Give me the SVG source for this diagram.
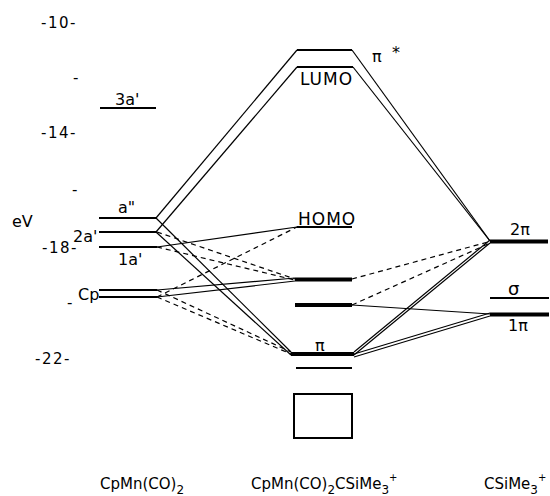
<svg xmlns="http://www.w3.org/2000/svg" width="550" height="496" viewBox="0 0 550 496">
  <style>
    text { font-family: "DejaVu Sans", "Liberation Sans", sans-serif; fill: #000; }
    .ax { font-size: 15px; letter-spacing: 1.5px; }
    .lab { font-size: 16px; }
    .big { font-size: 17px; letter-spacing: 1px; }
    .mol { font-size: 15px; }
    .lvl { stroke: #000; stroke-width: 2; fill: none; }
    .thick { stroke: #000; stroke-width: 4; fill: none; }
    .con { stroke: #000; stroke-width: 1.2; fill: none; }
    .dash { stroke: #000; stroke-width: 1.2; fill: none; stroke-dasharray: 5 4; }
  </style>

  <!-- energy axis -->
  <g id="axis">
    <text class="ax" x="41" y="28">-10-</text>
    <text class="ax" x="73" y="83">-</text>
    <text class="ax" x="41" y="138">-14-</text>
    <text class="ax" x="72" y="195">-</text>
    <text class="lab" x="12" y="227">eV</text>
    <text class="ax" x="42" y="253">-18-</text>
    <text class="ax" x="67" y="308" letter-spacing="0">-</text>
    <text class="ax" x="35" y="364">-22-</text>
  </g>

  <!-- connectors -->
  <g id="connectors">
    <!-- antibonding pair to 2pi -->
    <polyline class="con" points="156,218 297,50"/>
    <polyline class="con" points="156,232 297,67"/>
    <polyline class="con" points="352,50 490,241"/>
    <polyline class="con" points="353,67 490,241"/>
    <!-- bonding pi -->
    <line class="con" x1="156" y1="218" x2="291" y2="352"/>
    <line class="con" x1="156" y1="232" x2="291" y2="355"/>
    <line class="con" x1="354" y1="352" x2="490" y2="240"/>
    <line class="con" x1="354" y1="355" x2="490" y2="243"/>
    <line class="con" x1="354" y1="354" x2="490" y2="313"/>
    <line class="con" x1="354" y1="357" x2="490" y2="316"/>
    <!-- solid left -->
    <line class="con" x1="157" y1="247" x2="297" y2="227"/>
    <line class="con" x1="157" y1="290" x2="295" y2="278"/>
    <line class="con" x1="157" y1="297" x2="295" y2="281"/>
    <!-- solid right -->
    <line class="con" x1="352" y1="305" x2="490" y2="314"/>
    <!-- dashed left -->
    <line class="dash" x1="157" y1="232" x2="295" y2="279"/>
    <line class="dash" x1="157" y1="247" x2="295" y2="280"/>
    <line class="dash" x1="157" y1="297" x2="297" y2="227"/>
    <line class="dash" x1="157" y1="290" x2="291" y2="352"/>
    <line class="dash" x1="157" y1="297" x2="291" y2="354"/>
    <!-- dashed right -->
    <line class="dash" x1="352" y1="279" x2="488" y2="242"/>
    <line class="dash" x1="352" y1="305" x2="488" y2="244"/>
  </g>

  <!-- CpMn(CO)2 fragment levels -->
  <g id="n-3a">
    <line class="lvl" x1="100" y1="108" x2="156" y2="108"/>
    <text class="lab" x="115" y="105">3a'</text>
  </g>
  <g id="n-a2">
    <line class="lvl" x1="99" y1="218" x2="157" y2="218"/>
    <text class="lab" x="118" y="213">a"</text>
  </g>
  <g id="n-2a">
    <line class="lvl" x1="99" y1="232" x2="157" y2="232"/>
    <text class="lab" x="73" y="242">2a'</text>
  </g>
  <g id="n-1a">
    <line class="lvl" x1="99" y1="247" x2="157" y2="247"/>
    <text class="lab" x="118" y="265">1a'</text>
  </g>
  <g id="n-cp">
    <line class="lvl" x1="99" y1="290" x2="157" y2="290"/>
    <line class="lvl" x1="99" y1="297" x2="157" y2="297"/>
    <text class="lab" x="78" y="300">Cp</text>
  </g>

  <!-- complex levels -->
  <g id="n-pistar">
    <line class="lvl" x1="297" y1="50" x2="352" y2="50"/>
    <text class="lab" x="372" y="62">π</text>
    <text class="lab" x="392" y="58">*</text>
  </g>
  <g id="n-lumo">
    <line class="lvl" x1="297" y1="67" x2="353" y2="67"/>
    <text class="big" x="300" y="85">LUMO</text>
  </g>
  <g id="n-homo">
    <line class="lvl" x1="297" y1="227" x2="352" y2="227"/>
    <text class="big" x="298" y="225">HOMO</text>
  </g>
  <g id="n-c279">
    <line class="thick" x1="295" y1="279.5" x2="352" y2="279.5"/>
  </g>
  <g id="n-c305">
    <line class="thick" x1="295" y1="305" x2="352" y2="305"/>
  </g>
  <g id="n-pi">
    <line class="thick" x1="291" y1="354" x2="354" y2="354"/>
    <text class="lab" x="315" y="351">π</text>
  </g>
  <g id="n-c368">
    <line class="lvl" x1="296" y1="368" x2="352" y2="368"/>
  </g>
  <g id="n-box">
    <rect x="294" y="394" width="58" height="44" fill="none" stroke="#000" stroke-width="2"/>
  </g>

  <!-- CSiMe3+ fragment levels -->
  <g id="n-2pi">
    <line class="thick" x1="490" y1="241.5" x2="548" y2="241.5"/>
    <text class="lab" x="510" y="235">2π</text>
  </g>
  <g id="n-sigma">
    <line class="lvl" x1="490" y1="298" x2="549" y2="298"/>
    <text x="508" y="295" font-size="18">σ</text>
  </g>
  <g id="n-1pi">
    <line class="thick" x1="490" y1="314.5" x2="549" y2="314.5"/>
    <text class="lab" x="508" y="331">1π</text>
  </g>

  <!-- column captions -->
  <g id="captions">
    <text class="mol" x="100" y="489">CpMn(CO)<tspan dy="5" font-size="12">2</tspan></text>
    <text class="mol" x="251" y="489">CpMn(CO)<tspan dy="5" font-size="12">2</tspan><tspan dy="-5">CSiMe</tspan><tspan dy="5" font-size="12">3</tspan><tspan dy="-13" font-size="10">+</tspan></text>
    <text class="mol" x="484" y="489">CSiMe<tspan dy="5" font-size="12">3</tspan><tspan dy="-13" font-size="10">+</tspan></text>
  </g>
</svg>
